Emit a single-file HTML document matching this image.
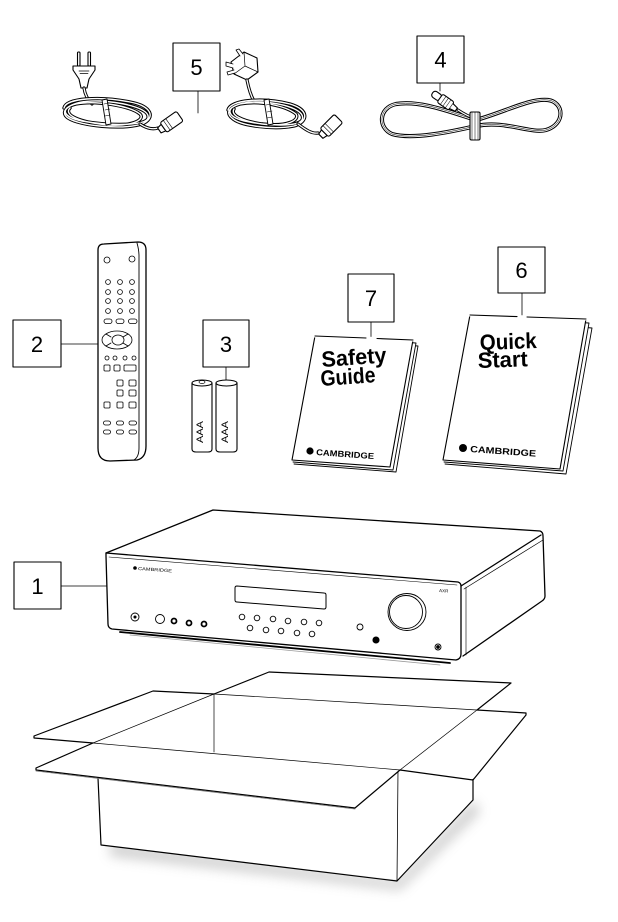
<!DOCTYPE html>
<html><head><meta charset="utf-8"><style>
html,body{margin:0;padding:0;background:#fff;}
svg{display:block;}
text{font-family:"Liberation Sans",sans-serif;}
</style></head><body>
<svg width="618" height="922" viewBox="0 0 618 922" xmlns="http://www.w3.org/2000/svg">
<defs>
<filter id="bl" x="-20%" y="-50%" width="140%" height="200%"><feGaussianBlur stdDeviation="6"/></filter>
<path id="euc" d="M64,108 C66,98 100,96 130,102 C152,106 156,118 142,124 C122,130 80,126 68,118 C58,111 70,100 100,101 C130,103 150,110 148,118 C146,126 110,126 82,121 C62,117 60,108 76,104 C96,100 130,106 140,114 C146,120 130,128 100,124 C76,121 64,114 70,108"/>
<path id="ukc" d="M228,110 C230,100 262,97 290,104 C310,110 308,122 294,126 C274,130 240,126 232,118 C222,110 236,101 262,102 C290,104 306,112 302,120 C298,127 268,126 244,121 C226,116 226,108 240,104 C260,100 286,106 296,114 C300,120 288,127 262,124 C242,121 230,115 234,109"/>
<path id="c4" d="M476,120 C450,112 420,100 396,104 C378,108 378,128 392,134 C412,140 450,132 476,126 C505,120 530,134 546,130 C566,124 564,102 548,100 C530,98 505,112 476,120"/>
</defs>
<g fill="none" stroke="#000" stroke-width="1.1" stroke-linejoin="round" stroke-linecap="round">

<!-- ===== Label boxes ===== -->
<rect x="173" y="43" width="47" height="48" fill="#fff"/>
<line x1="198" y1="91" x2="198" y2="113" stroke-width="0.8"/>
<rect x="417" y="36" width="47" height="47" fill="#fff"/>
<line x1="440" y1="83" x2="440" y2="91" stroke-width="0.8"/>
<rect x="13" y="320" width="48" height="47" fill="#fff"/>
<line x1="61" y1="344" x2="120" y2="344" stroke-width="0.8"/>
<rect x="203" y="320" width="46" height="47" fill="#fff"/>
<line x1="226" y1="367" x2="226" y2="392" stroke-width="0.8"/>
<rect x="348" y="274" width="46" height="48" fill="#fff"/>
<line x1="371" y1="322" x2="371" y2="341" stroke-width="0.8"/>
<rect x="498" y="247" width="47" height="46" fill="#fff"/>
<line x1="522" y1="293" x2="522" y2="322" stroke-width="0.8"/>
<rect x="14" y="562" width="47" height="47" fill="#fff"/>
<line x1="61" y1="586" x2="119" y2="586" stroke-width="0.8"/>

<!-- ===== EU power cord ===== -->
<rect x="77.5" y="52" width="2.5" height="14" rx="1"/>
<rect x="88" y="52" width="2.5" height="14" rx="1"/>
<path d="M73,66 L95,66 L95,70 L89,79 L87,88 L81,88 L79,79 L73,70 Z" fill="#fff"/>
<path d="M79,71 L89,71 M80,73.5 L88,73.5" stroke-width="0.7"/>
<path d="M84,88 C85,95 88,100 92,104" stroke-width="3.2"/>
<path d="M84,88 C85,95 88,100 92,104" stroke="#fff" stroke-width="1.3"/>
<use href="#euc" stroke-width="3.4"/>
<use href="#euc" stroke="#fff" stroke-width="1.4"/>
<path d="M102,100 L107,99 L111,124 L106,125 Z" fill="#fff" stroke-width="0.9"/>
<path d="M104,104 L109,103 M105,110 L110,109 M105,116 L110,115" stroke-width="0.6"/>
<path d="M140,124 C146,128 152,130 158,128" stroke-width="3.2"/>
<path d="M140,124 C146,128 152,130 158,128" stroke="#fff" stroke-width="1.3"/>
<g transform="translate(170,123) rotate(-35)">
<path d="M-13,-3 L-8,-4 L-8,4 L-13,3 Z" fill="#fff"/>
<rect x="-8" y="-6" width="20" height="12" rx="2" fill="#fff"/>
<path d="M-4,-6 L-4,6 M-1,-6 L-1,6" stroke-width="0.6"/>
</g>

<!-- ===== UK power cord ===== -->
<path d="M231,62 L244,52 L257,58 L258,72 L247,80 L234,74 Z" fill="#fff"/>
<path d="M244,52 L245,66 L258,72 M245,66 L234,74" stroke-width="0.7"/>
<path d="M233,64 L226,62 L226,66 L233,68 M234,70 L227,72 L228,75 L235,73 M240,56 L236,50 L239,49 L243,54" fill="#fff" stroke-width="0.8"/>
<path d="M247,80 C249,90 251,96 254,101" stroke-width="3.2"/>
<path d="M247,80 C249,90 251,96 254,101" stroke="#fff" stroke-width="1.3"/>
<use href="#ukc" stroke-width="3.4"/>
<use href="#ukc" stroke="#fff" stroke-width="1.4"/>
<path d="M264,100 L269,99 L273,124 L268,125 Z" fill="#fff" stroke-width="0.9"/>
<path d="M266,105 L271,104 M267,112 L272,111 M267,118 L272,117" stroke-width="0.6"/>
<path d="M298,124 C306,130 312,134 318,133" stroke-width="3.2"/>
<path d="M298,124 C306,130 312,134 318,133" stroke="#fff" stroke-width="1.3"/>
<g transform="translate(330,127) rotate(-45)">
<path d="M-13,-3 L-8,-4 L-8,4 L-13,3 Z" fill="#fff"/>
<rect x="-8" y="-6" width="20" height="12" rx="2" fill="#fff"/>
<path d="M-4,-6 L-4,6 M-1,-6 L-1,6" stroke-width="0.6"/>
</g>

<!-- ===== Cable 4 ===== -->
<use href="#c4" stroke-width="4.2"/>
<use href="#c4" stroke="#fff" stroke-width="2.2"/>
<use href="#c4" stroke-width="0.5"/>
<path d="M458,110 C464,114 470,117 476,119" stroke-width="3"/>
<path d="M458,110 C464,114 470,117 476,119" stroke="#fff" stroke-width="1.2"/>
<g transform="translate(444,101) rotate(35)">
<rect x="-14" y="-3.5" width="10" height="7" rx="3" fill="#fff"/>
<rect x="-5" y="-5" width="14" height="10" rx="2" fill="#fff"/>
<path d="M9,-3 L15,-2 L15,2 L9,3" fill="#fff"/>
<path d="M-1,-5 L-1,5 M2,-5 L2,5 M5,-5 L5,5" stroke-width="0.5"/>
</g>
<rect x="470" y="112" width="10" height="28" rx="1.5" fill="#fff"/>
<path d="M472,112 L472,140 M475,112 L475,140 M478,112 L478,140" stroke-width="0.5"/>

<!-- ===== Remote ===== -->
<path d="M98,250 Q98,244 104,244 L138,242 Q146,242 146,250 L146,446 Q146,458 137,460 L110,461 Q98,461 98,448 Z" fill="#fff" stroke-width="1.3"/>
<path d="M137,243 Q139,250 139,256 L139,448 Q139,457 134,460" stroke-width="0.9"/>
<g stroke-width="0.8">
<circle cx="107" cy="260" r="3"/><circle cx="132" cy="259" r="3"/>
<circle cx="108" cy="282" r="2.4"/><circle cx="120" cy="282" r="2.4"/><circle cx="132" cy="282" r="2.4"/>
<circle cx="108" cy="292" r="2.4"/><circle cx="120" cy="292" r="2.4"/><circle cx="132" cy="292" r="2.4"/>
<circle cx="108" cy="301" r="2.4"/><circle cx="120" cy="301" r="2.4"/><circle cx="132" cy="301" r="2.4"/>
<circle cx="108" cy="311" r="2.4"/><circle cx="120" cy="311" r="2.4"/><circle cx="132" cy="311" r="2.4"/>
<rect x="104" y="319" width="8" height="4.5" rx="2.2"/><rect x="116" y="319" width="8" height="4.5" rx="2.2"/><rect x="128.5" y="319" width="8.5" height="4.5" rx="2.2"/>
<ellipse cx="117" cy="340" rx="15" ry="9"/>
<ellipse cx="118" cy="340" rx="6" ry="5"/>
<path d="M106,334 L111,337 M128,334 L123,337 M106,346 L111,343 M128,346 L123,343"/>
<circle cx="107" cy="358" r="2"/><circle cx="115" cy="358" r="2"/><circle cx="125" cy="358" r="2"/><circle cx="134" cy="358" r="2"/>
<rect x="104" y="365" width="6" height="6" rx="1"/><rect x="114" y="365" width="6" height="6" rx="1"/><rect x="124" y="365" width="12" height="6" rx="1"/>
<rect x="117" y="380" width="6" height="6" rx="1"/><rect x="129" y="380" width="7" height="6" rx="1"/>
<rect x="117" y="390" width="6" height="6" rx="1"/><rect x="129" y="390" width="7" height="6" rx="1"/>
<rect x="104" y="402" width="6" height="6" rx="1"/><rect x="117" y="402" width="6" height="6" rx="1"/><rect x="129" y="402" width="7" height="6" rx="1"/>
<rect x="103.5" y="421" width="7" height="4" rx="2"/><rect x="116.5" y="421" width="7" height="4" rx="2"/><rect x="129" y="421" width="7.5" height="4" rx="2"/>
<rect x="103.5" y="430" width="7" height="4" rx="2"/><rect x="116.5" y="430" width="7" height="4" rx="2"/><rect x="129" y="430" width="7.5" height="4" rx="2"/>
</g>

<!-- ===== Batteries ===== -->
<path d="M192,383 L192,449 Q192,452 196,452 L208,452 Q212,452 212,449 L212,383" fill="#fff"/>
<ellipse cx="202" cy="383" rx="10" ry="3" fill="#fff"/>
<ellipse cx="202" cy="382" rx="3" ry="1.5" stroke-width="0.7"/>
<path d="M216,383 L216,449 Q216,452 220,452 L233,452 Q237,452 237,449 L237,383" fill="#fff"/>
<ellipse cx="226.5" cy="383" rx="10.5" ry="3" fill="#fff"/>

<!-- ===== Safety Guide booklet ===== -->
<path d="M316,338 L418,346 L396,472 L294,464" fill="#fff" stroke-width="0.9"/>
<path d="M316,337 L416,343 L393,470 L293,462" fill="#fff" stroke-width="0.9"/>
<path d="M315,336 L413,340 L390,467 L292,460 Z" fill="#fff"/>
<line x1="315" y1="336" x2="413" y2="340" stroke="#fff" stroke-width="3"/>
<path d="M315,336 L366,338 M377,338.5 L413,340" />

<!-- ===== Quick Start booklet ===== -->
<path d="M472,318 L592,328 L566,474 L445,464" fill="#fff" stroke-width="0.9"/>
<path d="M471,317 L589,323 L563,471 L444,462" fill="#fff" stroke-width="0.9"/>
<path d="M470,315 L586,319 L560,469 L443,460 Z" fill="#fff"/>
<line x1="470" y1="315" x2="586" y2="319" stroke="#fff" stroke-width="3"/>
<path d="M470,315 L517,316.6 M527,317 L586,319"/>

<!-- ===== Box shadow ===== -->
<polygon points="110,842 397,880 474,800 480,812 400,890 110,856" fill="#888" stroke="none" opacity="0.4" filter="url(#bl)"/>

<!-- ===== Box ===== -->
<polygon points="214,694 477,710 400,770 93,743" fill="#fff" stroke="none"/>
<line x1="214" y1="694" x2="214" y2="752" stroke-width="0.7"/>
<polygon points="214,694 269,672 511,683 477,710" fill="#fff" stroke="none"/>
<path d="M214,694 L269,672 L511,683 L477,710" stroke-width="1.2"/>
<path d="M214,694 L477,710" stroke-width="0.7"/>
<polygon points="153,691 214,694 93,743 34,737" fill="#fff" stroke="none"/>
<path d="M214,694 L153,691 L34,736 L34,738 L93,743" stroke-width="1.2"/>
<path d="M214,694 L93,743" stroke-width="0.7"/>
<polygon points="98,778 398,790 398,880 101,845" fill="#fff" stroke="none"/>
<polygon points="398,780 473,779 473,800 397,881" fill="#fff" stroke="none"/>
<path d="M98,778 L101,845 L397,881 L473,800 L473,779" stroke-width="1.2"/>
<line x1="398" y1="770" x2="397" y2="881" stroke-width="0.8"/>
<polygon points="93,743 400,770 355,807 36,769" fill="#fff" stroke="none"/>
<path d="M93,743 L36,768 L36,770 L355,808 L400,770" stroke-width="1.2"/>
<path d="M36,771 L355,809" stroke="#777" stroke-width="0.8"/>
<path d="M93,743 L400,770" stroke-width="0.7"/>
<polygon points="477,710 526,713 473,779 400,770" fill="#fff" stroke="none"/>
<path d="M477,710 L526,713 L526,715 L473,780 L400,770" stroke-width="1.2"/>
<path d="M477,710 L400,770" stroke-width="0.7"/>

<!-- ===== Amplifier ===== -->
<polygon points="106,553 213,510 542,532 545,598 462,657 456,660 108,628" fill="#fff" stroke="none"/>
<path d="M106,553 L213,510 L540,531 Q543,532 543,536 L545,596 Q545,599 542,601 L463,656" stroke-width="1.3"/>
<path d="M106,553 L458,582 Q461,583 461,586 L461,654 Q461,659 456,660 L112,629 Q108,628 108,624 L106,556 Z" fill="#fff" stroke-width="1.3"/>
<path d="M109,557 L457,585" stroke-width="0.6"/>
<path d="M461,586 L541,535" stroke-width="1.3"/>
<path d="M464,589 L543,540" stroke-width="0.7"/>
<path d="M466,587 L466,655" stroke-width="0.6"/>
<path d="M120,632 L450,663" stroke-width="1.8"/>
<path d="M130,635 L440,665" stroke="#999" stroke-width="0.8"/>
<path d="M237,586 L324,593 Q326,593 326,595 L326,607 Q326,609 324,609 L237,602 Q235,602 235,600 L235,588 Q235,586 237,586 Z" stroke-width="1"/>
<g stroke-width="0.9">
<circle cx="135" cy="617" r="4"/>
<circle cx="160" cy="619" r="4.5"/>
<circle cx="242" cy="617" r="2.8"/><circle cx="257" cy="618" r="2.8"/><circle cx="273" cy="619" r="2.8"/><circle cx="288" cy="621" r="2.8"/><circle cx="304" cy="622" r="2.8"/><circle cx="319" cy="623" r="2.8"/>
<circle cx="250" cy="628" r="2.8"/><circle cx="266" cy="630" r="2.8"/><circle cx="281" cy="631" r="2.8"/><circle cx="297" cy="633" r="2.8"/><circle cx="312" cy="634" r="2.8"/>
<circle cx="360" cy="627" r="3"/>
<circle cx="438" cy="647" r="3"/>
<ellipse cx="407" cy="612" rx="19" ry="18.5"/>
<ellipse cx="406" cy="612" rx="16.5" ry="16.5"/>
</g>
<circle cx="135" cy="617" r="1" fill="#000"/>
<circle cx="174" cy="621" r="2.5" stroke-width="1.8"/>
<circle cx="189" cy="623" r="2.5" stroke-width="1.8"/>
<circle cx="204" cy="624" r="2.5" stroke-width="1.8"/>
<circle cx="376" cy="640" r="3" fill="#000"/>
<circle cx="438" cy="647" r="1.3" fill="#000"/>
<circle cx="135" cy="568" r="1.8" fill="#000" stroke="none"/>
</g>

<!-- ===== Texts ===== -->
<g font-family="Liberation Sans, sans-serif" fill="#000" text-anchor="middle">
<text x="196.5" y="75" font-size="22">5</text>
<text x="440.5" y="67.5" font-size="22">4</text>
<text x="37" y="352" font-size="22">2</text>
<text x="226" y="352" font-size="22">3</text>
<text x="371" y="306" font-size="22">7</text>
<text x="521.5" y="278" font-size="22">6</text>
<text x="37.5" y="594" font-size="22">1</text>
</g>
<text x="0" y="0" font-size="9" transform="translate(203,443) rotate(-90)" textLength="22" lengthAdjust="spacingAndGlyphs">AAA</text>
<text x="0" y="0" font-size="9" transform="translate(228,443) rotate(-90)" textLength="22" lengthAdjust="spacingAndGlyphs">AAA</text>

<g font-weight="bold" fill="#000">
<text x="0" y="0" font-size="22" transform="translate(322,367) rotate(-4)" textLength="65" lengthAdjust="spacingAndGlyphs">Safety</text>
<text x="0" y="0" font-size="22" transform="translate(321,386) rotate(-4)" textLength="55" lengthAdjust="spacingAndGlyphs">Guide</text>
<text x="0" y="0" font-size="22" transform="translate(480,350) rotate(-2)" textLength="57" lengthAdjust="spacingAndGlyphs">Quick</text>
<text x="0" y="0" font-size="22" transform="translate(478,368) rotate(-2)" textLength="50" lengthAdjust="spacingAndGlyphs">Start</text>
<text x="0" y="0" font-size="8.5" transform="translate(316,455) rotate(4)" textLength="58" lengthAdjust="spacingAndGlyphs">CAMBRIDGE</text>
<text x="0" y="0" font-size="9" transform="translate(470,452) rotate(4)" textLength="66" lengthAdjust="spacingAndGlyphs">CAMBRIDGE</text>
</g>
<circle cx="310" cy="451" r="3.6" fill="#000"/>
<circle cx="463" cy="448" r="4" fill="#000"/>
<text x="0" y="0" font-size="4.5" fill="#000" transform="translate(138,570) rotate(4)" textLength="34" lengthAdjust="spacingAndGlyphs">CAMBRIDGE</text>
<text x="0" y="0" font-size="4.5" fill="#000" transform="translate(439,592) rotate(4)">AXR</text>
</svg>
</body></html>
